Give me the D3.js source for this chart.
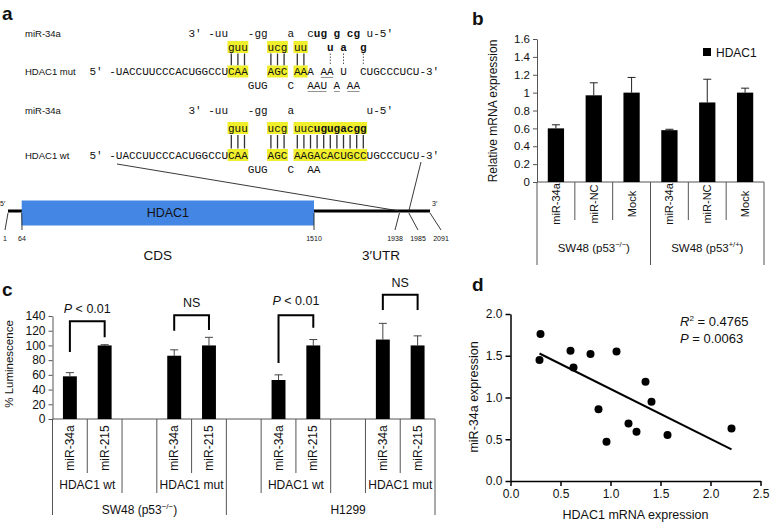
<!DOCTYPE html>
<html><head><meta charset="utf-8">
<script src="https://cdn.jsdelivr.net/npm/d3@7"></script>
<style>
body{margin:0;background:#fff}
svg{display:block}
text{font-family:"Liberation Sans",Arial,Helvetica,sans-serif;fill:#111}
.seq{font-family:"Liberation Mono","DejaVu Sans Mono",monospace;font-size:11px}
</style>
</head><body>
<svg id="chart" width="770" height="522"></svg>
<script>
// ---------------- Panel b data ----------------
const bCategories = ["miR-34a","miR-NC","Mock","miR-34a","miR-NC","Mock"];
const bGroups = ["SW48 (p53", "SW48 (p53"];
const bGroupSup = ["−/−", "+/+"];
const bValues = [0.60, 0.97, 1.00, 0.58, 0.89, 1.00];
const bErrors = [0.04, 0.14, 0.17, 0.01, 0.26, 0.05];
const bTicks = [0, 0.2, 0.4, 0.6, 0.8, 1, 1.2, 1.4, 1.6];
const bSeries = "HDAC1";

// ---------------- Panel c data ----------------
const cCategories = ["miR-34a","miR-215","","miR-34a","miR-215","","miR-34a","miR-215","","miR-34a","miR-215"];
const cValues = [58, 100, null, 86, 100, null, 53, 100, null, 108, 100];
const cErrors = [5, 1, null, 8, 11, null, 7, 8, null, 22, 13];
const cSubgroups = ["HDAC1 wt","HDAC1 mut","HDAC1 wt","HDAC1 mut"];
const cGroups = ["SW48 (p53", "H1299"];
const cGroupSup = ["−/−", ""];
const cTicks = [0, 20, 40, 60, 80, 100, 120, 140];
const cSigLabels = ["P < 0.01", "NS", "P < 0.01", "NS"];

// ---------------- Panel d data ----------------
const dHDAC1 = [0.30, 0.29, 0.60, 0.63, 0.80, 1.06, 0.88, 0.96, 1.35, 1.41, 1.18, 1.26, 1.57, 2.21];
const dMiR34a = [1.76, 1.45, 1.56, 1.36, 1.52, 1.55, 0.86, 0.47, 1.19, 0.95, 0.69, 0.59, 0.55, 0.63];
const dTicksX = [0, 0.5, 1.0, 1.5, 2.0, 2.5];
const dTicksY = [0, 0.5, 1.0, 1.5, 2.0];
const dStats = ["0.4765", "0.0063"];

// ---------------- Panel a data ----------------
const geneTicks = [1, 64, 1510, 1938, 1985, 2091];

const svg = d3.select("#chart");
const AX = "#555";

function panelLabel(t, x, y) {
  svg.append("text").attr("x", x).attr("y", y).attr("font-size", 19).attr("font-weight", "bold").text(t);
}
panelLabel("a", 2, 20);
panelLabel("b", 472, 25);
panelLabel("c", 2, 296);
panelLabel("d", 472, 291);

// ================= Panel a =================
const ga = svg.append("g");
const cw = 6.6, x0 = 228;
const cx = c => x0 + c * cw;
const YEL = "#f0ef2c";

function hl(col, n, ycenter) {
  ga.append("rect").attr("x", cx(col) - 0.5).attr("y", ycenter - 6).attr("width", n * cw + 1).attr("height", 12).attr("fill", YEL);
}
function seq(str, col, base, opt = {}) {
  const t = ga.append("text").attr("class", "seq").attr("y", base);
  if (opt.end) t.attr("x", cx(col)).attr("text-anchor", "end");
  else t.attr("x", cx(col));
  if (opt.bold) t.attr("font-weight", "bold");
  if (opt.parts) {
    opt.parts.forEach(p => t.append("tspan").attr("font-weight", p[1] ? "bold" : "normal").text(p[0]));
  } else t.text(str);
  return t;
}
function pairs(cols, y1, y2, dashed) {
  cols.forEach(c => {
    ga.append("line").attr("x1", cx(c) + cw / 2).attr("x2", cx(c) + cw / 2).attr("y1", y1).attr("y2", y2)
      .attr("stroke", dashed ? "#444" : "#333").attr("stroke-width", dashed ? 0.9 : 1.3)
      .attr("stroke-dasharray", dashed ? "1.5,1.5" : null);
  });
}
function underline(col, n, y) {
  ga.append("line").attr("x1", cx(col) + 0.5).attr("x2", cx(col + n) - 0.5).attr("y1", y).attr("y2", y)
    .attr("stroke", "#777").attr("stroke-width", 0.8);
}
function leftLabel(t, y) {
  ga.append("text").attr("x", 25).attr("y", y).attr("font-size", 9.5).text(t);
}

// --- mutant duplex ---
leftLabel("miR-34a", 36.5);
leftLabel("HDAC1 mut", 74.5);
seq("3′ -uu", 0, 37, {end: true});
seq("-gg", 3, 37);
seq("a", 9, 37);
seq("", 12, 37, {parts: [["c", false], ["ug", true]]});
seq("g", 16, 37, {bold: true});
seq("cg", 18, 37, {bold: true});
seq("u-5′", 21, 37);
hl(0, 3, 47); hl(6, 3, 47); hl(10, 2, 47);
seq("guu", 0, 51); seq("ucg", 6, 51); seq("uu", 10, 51);
seq("u", 15, 51, {bold: true}); seq("a", 17, 51, {bold: true}); seq("g", 20, 51, {bold: true});
pairs([0, 1, 2, 6, 7, 8, 10, 11], 53.5, 65.5, false);
pairs([15, 17, 20], 53.5, 65.5, true);
hl(0, 3, 71.5); hl(6, 3, 71.5); hl(10, 2, 71.5);
seq("5′ -UACCUUCCCACUGGCCU", 0, 75, {end: true});
seq("CAA", 0, 75); seq("AGC", 6, 75); seq("AA", 10, 75); seq("A", 12, 75);
seq("AA", 14, 75); seq("U", 17, 75); seq("CUGCCCUCU-3′", 20, 75);
underline(14, 2, 77.5);
seq("GUG", 3, 89); seq("C", 9, 89); seq("AAU", 12, 89); seq("A", 16, 89); seq("AA", 18, 89);
underline(12, 3, 91.5); underline(16, 1, 91.5); underline(18, 2, 91.5);

// --- wild type duplex ---
leftLabel("miR-34a", 113.5);
leftLabel("HDAC1 wt", 158.5);
seq("3′ -uu", 0, 114, {end: true});
seq("-gg", 3, 114);
seq("a", 9, 114);
seq("u-5′", 21, 114);
hl(0, 3, 128); hl(6, 3, 128); hl(10, 11, 128);
seq("guu", 0, 132); seq("ucg", 6, 132);
seq("", 10, 132, {parts: [["uuc", false], ["ugugacgg", true]]});
pairs([0, 1, 2, 6, 7, 8, 10, 11, 12, 13, 14, 15, 16, 17, 18, 19, 20], 135, 148.5, false);
hl(0, 3, 155); hl(6, 3, 155); hl(10, 11, 155);
seq("5′ -UACCUUCCCACUGGCCU", 0, 159, {end: true});
seq("CAA", 0, 159); seq("AGC", 6, 159); seq("AAGACACUGCC", 10, 159); seq("UGCCCUCU-3′", 21, 159);
seq("GUG", 3, 173); seq("C", 9, 173); seq("AA", 12, 173);

// --- gene diagram ---
const gx = d3.scaleLinear().domain([1, 2091]).range([8, 430]);
const boxLeft = 21.7, boxRight = 314;
const gBox = d3.scaleLinear().domain([64, 1510]).range([boxLeft, boxRight]);
const utr = d3.scaleLinear().domain([1510, 2091]).range([boxRight, 430]);
const pos = p => p <= 64 ? gx(1) + (p - 1) / 63 * (boxLeft - gx(1)) : (p <= 1510 ? gBox(p) : utr(p));
ga.append("line").attr("x1", pos(1)).attr("x2", pos(2091)).attr("y1", 211).attr("y2", 211).attr("stroke", "#000").attr("stroke-width", 3.2);
ga.append("rect").attr("x", pos(64)).attr("y", 200.5).attr("width", pos(1510) - pos(64)).attr("height", 25).attr("fill", "#4386e4");
ga.append("text").attr("x", (pos(64) + pos(1510)) / 2).attr("y", 217).attr("text-anchor", "middle").attr("font-size", 12.5).text("HDAC1");
ga.append("text").attr("x", 0).attr("y", 206).attr("font-size", 7).text("5′");
ga.append("text").attr("x", 432).attr("y", 206).attr("font-size", 7).text("3′");
const labX = {1: 5, 64: 22, 1510: 314, 1938: 395, 1985: 418, 2091: 441};
geneTicks.forEach(p => {
  const lx = labX[p];
  ga.append("text").attr("x", lx).attr("y", 240.5).attr("text-anchor", "middle").attr("font-size", 7).text(p);
  ga.append("line").attr("x1", lx).attr("y1", 230).attr("x2", pos(p)).attr("y2", 213)
    .attr("stroke", "#222").attr("stroke-width", 0.9);
});
ga.append("line").attr("x1", 117).attr("y1", 164).attr("x2", pos(1938)).attr("y2", 211).attr("stroke", "#222").attr("stroke-width", 0.9);
ga.append("line").attr("x1", 421).attr("y1", 162).attr("x2", pos(1985)).attr("y2", 211).attr("stroke", "#222").attr("stroke-width", 0.9);
ga.append("text").attr("x", (pos(64) + pos(1510)) / 2 - 10).attr("y", 260).attr("text-anchor", "middle").attr("font-size", 13.5).text("CDS");
ga.append("text").attr("x", 381).attr("y", 260).attr("text-anchor", "middle").attr("font-size", 13.5).text("3′UTR");

// ================= Panel b =================
const gb = svg.append("g");
const yB = d3.scaleLinear().domain([0, 1.6]).range([182, 39]);
const xB = d3.scaleBand().domain(d3.range(bCategories.length)).range([537, 764]);
const yAxB = gb.append("g").attr("transform", "translate(537,0)")
  .call(d3.axisLeft(yB).tickValues(bTicks).tickSize(4).tickSizeOuter(0).tickFormat(d3.format("~g")));
yAxB.selectAll("path,line").attr("stroke", AX);
yAxB.selectAll("text").attr("font-size", 11.5).attr("fill", "#111").attr("font-family", "Liberation Sans, Arial");
gb.append("line").attr("x1", 537).attr("x2", 764).attr("y1", yB(0)).attr("y2", yB(0)).attr("stroke", AX);
const bw = xB.bandwidth() * 0.43;
bValues.forEach((v, i) => {
  const c = xB(i) + xB.bandwidth() / 2;
  gb.append("line").attr("x1", c).attr("x2", c).attr("y1", yB(v)).attr("y2", yB(v + bErrors[i])).attr("stroke", "#222");
  gb.append("line").attr("x1", c - 4).attr("x2", c + 4).attr("y1", yB(v + bErrors[i])).attr("y2", yB(v + bErrors[i])).attr("stroke", "#222");
  gb.append("rect").attr("x", c - bw / 2).attr("y", yB(v)).attr("width", bw).attr("height", yB(0) - yB(v)).attr("fill", "#000");
  gb.append("text").attr("transform", `translate(${c + 4},${204}) rotate(-90)`).attr("text-anchor", "middle")
    .attr("font-size", 11).text(bCategories[i]);
});
d3.range(bCategories.length + 1).forEach(i => {
  const x = i < bCategories.length ? xB(i) : xB.range()[1];
  const full = (i % 3 === 0);
  gb.append("line").attr("x1", x).attr("x2", x).attr("y1", yB(0)).attr("y2", full ? 265 : 220).attr("stroke", AX);
});
bGroups.forEach((g, k) => {
  const cxg = (xB(k * 3) + (k * 3 + 3 < bCategories.length ? xB(k * 3 + 3) : xB.range()[1])) / 2;
  const t = gb.append("text").attr("x", cxg).attr("y", 252).attr("text-anchor", "middle").attr("font-size", 11.5);
  t.append("tspan").text(g);
  t.append("tspan").attr("dy", -5).attr("font-size", 7.5).text(bGroupSup[k]);
  t.append("tspan").attr("dy", 5).text(")");
});
gb.append("text").attr("transform", "translate(497,111) rotate(-90)").attr("text-anchor", "middle").attr("font-size", 12).text("Relative mRNA expression");
gb.append("rect").attr("x", 703).attr("y", 48).attr("width", 8).attr("height", 8).attr("fill", "#000");
gb.append("text").attr("x", 716).attr("y", 56.5).attr("font-size", 12).text(bSeries);

// ================= Panel c =================
const gc = svg.append("g");
const yC = d3.scaleLinear().domain([0, 140]).range([419, 316]);
const xC = d3.scaleBand().domain(d3.range(cCategories.length)).range([52.5, 435]);
const yAxC = gc.append("g").attr("transform", "translate(52.5,0)")
  .call(d3.axisLeft(yC).tickValues(cTicks).tickSize(4).tickSizeOuter(0));
yAxC.selectAll("path,line").attr("stroke", AX);
yAxC.selectAll("text").attr("font-size", 12).attr("fill", "#111").attr("font-family", "Liberation Sans, Arial");
gc.append("line").attr("x1", 52.5).attr("x2", 435).attr("y1", yC(0)).attr("y2", yC(0)).attr("stroke", AX);
const cbw = xC.bandwidth() * 0.4;
const cc = i => xC(i) + xC.bandwidth() / 2;
cValues.forEach((v, i) => {
  if (v == null) return;
  const c = cc(i), top = yC(v + cErrors[i]);
  gc.append("line").attr("x1", c).attr("x2", c).attr("y1", yC(v)).attr("y2", top).attr("stroke", "#444");
  gc.append("line").attr("x1", c - 4).attr("x2", c + 4).attr("y1", top).attr("y2", top).attr("stroke", "#444");
  gc.append("rect").attr("x", c - cbw / 2).attr("y", yC(v)).attr("width", cbw).attr("height", yC(0) - yC(v)).attr("fill", "#000");
  gc.append("text").attr("transform", `translate(${c + 4},${448}) rotate(-90)`).attr("text-anchor", "middle")
    .attr("font-size", 12).text(cCategories[i]);
});
const bEdge = i => i < cCategories.length ? xC(i) : xC.range()[1];
const fullB = [0, 5, 11], medB = [2, 3, 6, 8, 9];
d3.range(cCategories.length + 1).forEach(i => {
  const y2 = fullB.includes(i) ? 515 : (medB.includes(i) ? 493 : 473);
  gc.append("line").attr("x1", bEdge(i)).attr("x2", bEdge(i)).attr("y1", yC(0)).attr("y2", y2).attr("stroke", AX);
});
const subStarts = [0, 3, 6, 9];
cSubgroups.forEach((s, k) => {
  const a = subStarts[k];
  gc.append("text").attr("x", (bEdge(a) + bEdge(a + 2)) / 2).attr("y", 489).attr("text-anchor", "middle").attr("font-size", 12).text(s);
});
cGroups.forEach((g, k) => {
  const a = subStarts[k * 2], b = subStarts[k * 2 + 1] + 2;
  const t = gc.append("text").attr("x", (bEdge(a) + bEdge(b)) / 2).attr("y", 514).attr("text-anchor", "middle").attr("font-size", 12);
  t.append("tspan").text(g);
  if (cGroupSup[k]) {
    t.append("tspan").attr("dy", -5).attr("font-size", 8).text(cGroupSup[k]);
    t.append("tspan").attr("dy", 5).text(")");
  }
});
gc.append("text").attr("transform", "translate(13,364) rotate(-90)").attr("text-anchor", "middle").attr("font-size", 11.5).text("% Luminescence");
const brackets = [
  {a: 0, b: 1, top: 133, l: 91, r: 111, lab: 144},
  {a: 3, b: 4, top: 141, l: 120, r: 121, lab: 152},
  {a: 6, b: 7, top: 141, l: 76, r: 124, lab: 155},
  {a: 9, b: 10, top: 169, l: 148, r: 148, lab: 180}
];
brackets.forEach((br, k) => {
  const xa = cc(br.a), xb = cc(br.b);
  gc.append("path").attr("d", `M${xa},${yC(br.l)}V${yC(br.top)}H${xb}V${yC(br.r)}`)
    .attr("fill", "none").attr("stroke", "#000").attr("stroke-width", 2);
  const t = gc.append("text").attr("x", (xa + xb) / 2).attr("y", yC(br.lab)).attr("text-anchor", "middle").attr("font-size", 12.5);
  const lab = cSigLabels[k];
  if (lab.startsWith("P")) {
    t.append("tspan").attr("font-style", "italic").text("P");
    t.append("tspan").text(lab.slice(1));
  } else t.text(lab);
});

// ================= Panel d =================
const gd = svg.append("g");
const xD = d3.scaleLinear().domain([0, 2.5]).range([510.5, 760.5]);
const yD = d3.scaleLinear().domain([0, 2.0]).range([481, 314]);
const axX = gd.append("g").attr("transform", `translate(0,${yD(0)})`)
  .call(d3.axisBottom(xD).tickValues(dTicksX).tickSize(5).tickSizeOuter(0).tickFormat(d3.format(".1f")));
const axY = gd.append("g").attr("transform", `translate(${xD(0)},0)`)
  .call(d3.axisLeft(yD).tickValues(dTicksY).tickSize(5).tickSizeOuter(0).tickFormat(d3.format(".1f")));
[axX, axY].forEach(a => {
  a.selectAll("path,line").attr("stroke", "#000").attr("stroke-width", 1.5);
  a.selectAll("text").attr("font-size", 12).attr("fill", "#111").attr("font-family", "Liberation Sans, Arial");
});
const mx = d3.mean(dHDAC1), my = d3.mean(dMiR34a);
let sxy = 0, sxx = 0;
dHDAC1.forEach((x, i) => { sxy += (x - mx) * (dMiR34a[i] - my); sxx += (x - mx) * (x - mx); });
const slope = sxy / sxx, icpt = my - slope * mx;
const [fx0, fx1] = d3.extent(dHDAC1);
gd.append("line").attr("x1", xD(fx0)).attr("y1", yD(icpt + slope * fx0)).attr("x2", xD(fx1)).attr("y2", yD(icpt + slope * fx1))
  .attr("stroke", "#000").attr("stroke-width", 2);
dHDAC1.forEach((x, i) => {
  gd.append("circle").attr("cx", xD(x)).attr("cy", yD(dMiR34a[i])).attr("r", 4).attr("fill", "#000");
});
const r2 = gd.append("text").attr("x", 680).attr("y", 326).attr("font-size", 13);
r2.append("tspan").attr("font-style", "italic").text("R");
r2.append("tspan").attr("dy", -5).attr("font-size", 8).text("2");
r2.append("tspan").attr("dy", 5).text(" = " + dStats[0]);
const pt = gd.append("text").attr("x", 680).attr("y", 343).attr("font-size", 13);
pt.append("tspan").attr("font-style", "italic").text("P");
pt.append("tspan").text(" = " + dStats[1]);
gd.append("text").attr("x", 635.5).attr("y", 519).attr("text-anchor", "middle").attr("font-size", 12.5).text("HDAC1 mRNA expression");
gd.append("text").attr("transform", "translate(478,397) rotate(-90)").attr("text-anchor", "middle").attr("font-size", 12.5).text("miR-34a expression");
</script>
</body></html>
